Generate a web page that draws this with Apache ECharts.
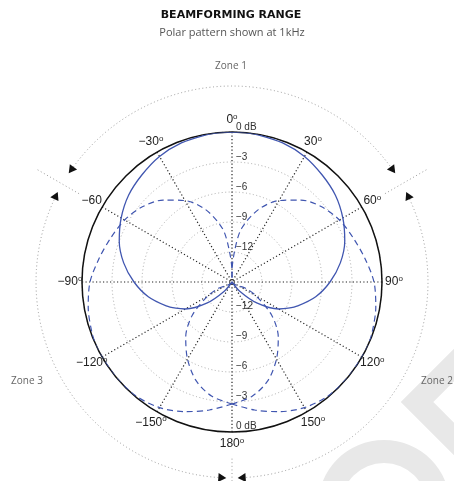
<!DOCTYPE html>
<html>
<head>
<meta charset="utf-8">
<script src="https://cdn.jsdelivr.net/npm/echarts@6/dist/echarts.min.js"></script>
<style>
  html, body { margin: 0; padding: 0; background: #fff; }
  #chart { width: 454px; height: 481px; }
</style>
</head>
<body>
<div id="chart"></div>
<script>
// angle (deg, 0 = front, clockwise) -> level in dB
const angles = [-180, -170, -160, -150, -140, -130, -120, -115, -110, -100, -90, -80, -70, -60, -50, -40, -30, -20, -10, -5,
  0, 5, 10, 20, 30, 40, 50, 60, 70, 80, 90, 100, 110, 115, 120, 130, 140, 150, 160, 170, 180];
const frontBeam = [-15, -15, -15, -15, -13.8, -11.7, -9.6, -8.8, -8.0, -6.5, -5.2, -4.0, -3.0, -2.2, -1.5, -1.0, -0.5, -0.2, -0.05, 0,
  0, 0, -0.05, -0.2, -0.5, -1.0, -1.5, -2.2, -3.0, -4.0, -5.2, -6.5, -8.0, -8.8, -9.6, -11.7, -13.8, -15, -15, -15, -15];
const zone3Beam = [-2.8, -2.0, -1.2, -0.5, -0.1, 0, 0, 0, -0.1, -0.4, -0.8, -1.5, -2.1, -2.6, -3.3, -4.3, -5.6, -7.3, -9.6, -11.8,
  -14, -15, -15, -15, -15, -15, -15, -15, -15, -15, -15, -15, -15, -13.5, -12.2, -9.8, -7.8, -6.1, -4.5, -3.4, -2.8];
const zone2Beam = [-2.8, -3.4, -4.5, -6.1, -7.8, -9.8, -12.2, -13.5, -15, -15, -15, -15, -15, -15, -15, -15, -15, -15, -15, -15,
  -14, -11.8, -9.6, -7.3, -5.6, -4.3, -3.3, -2.6, -2.1, -1.5, -0.8, -0.4, -0.1, 0, 0, 0, -0.1, -0.5, -1.2, -2.0, -2.8];

const angleTicks = [-150, -120, -90, -60, -30, 0, 30, 60, 90, 120, 150, 180];
const angleTickLabels = ['−150°', '−120°', '−90°', '−60', '−30°', '0°', '30°', '60°', '90°', '120°', '150°', '180°'];
const dbTicks = [0, -3, -6, -9, -12];
const dbTickLabels = ['0 dB', '−3', '−6', '−9', '−12'];

const zoneNames = ['Zone 1', 'Zone 2', 'Zone 3'];
const zoneBounds = [-60, 60, 180];
const zoneArcs = [[-54, 54], [65, 176], [-176, -65]];

const FONT = '"Liberation Sans", Arial, sans-serif';
const BLUE = '#4056b0';
const CENTER = [232, 282];
// radii in the outer (decoration) polar, as a share of its radius
const ARC_R = 0.871;
const BOUND_IN = 0.785;
const BOUND_OUT = 1.0;
const LABEL_R = 0.72;

const chart = echarts.init(document.getElementById('chart'), null, { renderer: 'canvas' });

function toPairs(vals) {
  return vals.map((v, i) => [v, angles[i]]);
}

function degLabel(s) {
  if (s.endsWith('°')) return '{n|' + s.slice(0, -1) + '}{s|o}';
  return '{n|' + s + '}';
}

function zoneArcItem(params, api) {
  const a0 = api.value(0), a1 = api.value(1);
  const c = api.coord([0, 0]);
  const pts = [api.coord([ARC_R, a0]), api.coord([ARC_R, a1])];
  const r = Math.hypot(pts[0][0] - c[0], pts[0][1] - c[1]);
  const ang = pts.map(p => Math.atan2(p[1] - c[1], p[0] - c[0]));
  const children = [{
    type: 'arc',
    shape: { cx: c[0], cy: c[1], r: r, startAngle: ang[0], endAngle: ang[1], clockwise: true },
    style: { stroke: '#9a9a9a', lineWidth: 1, lineDash: [1, 2.6], fill: null }
  }];
  pts.forEach((p, k) => {
    const ux = (p[0] - c[0]) / r, uy = (p[1] - c[1]) / r;
    const dir = k === 0 ? -1 : 1;
    const tx = -uy * dir, ty = ux * dir;
    children.push({
      type: 'polygon',
      shape: { points: [
        [p[0] + tx * 8, p[1] + ty * 8],
        [p[0] + ux * 4.5, p[1] + uy * 4.5],
        [p[0] - ux * 4.5, p[1] - uy * 4.5]
      ] },
      style: { fill: '#111' }
    });
  });
  return { type: 'group', children: children };
}

chart.setOption({
  backgroundColor: '#fff',
  animation: false,
  graphic: [
    // faint watermark in the lower right corner
    { type: 'ring', z: -10, shape: { cx: 384, cy: 506, r: 66, r0: 43 }, style: { fill: '#e8e8e8' } },
    { type: 'polyline', z: -10, shape: { points: [[470, 349], [417, 402], [470, 455]] },
      style: { stroke: '#e8e8e8', lineWidth: 23, lineJoin: 'miter', fill: null } },
    { type: 'text', x: 231, y: 15, style: { text: 'BEAMFORMING RANGE', align: 'center', verticalAlign: 'middle',
      font: 'bold 11px "DejaVu Sans", sans-serif', fill: '#111' } },
    { type: 'text', x: 232, y: 33, style: { text: 'Polar pattern shown at 1kHz', align: 'center', verticalAlign: 'middle',
      font: '11px "Open Sans", sans-serif', fill: '#555' } },
    { type: 'text', x: 231, y: 66, style: { text: zoneNames[0], align: 'center', verticalAlign: 'middle',
      font: '10px "Open Sans", sans-serif', fill: '#666' } },
    { type: 'text', x: 437, y: 381, style: { text: zoneNames[1], align: 'center', verticalAlign: 'middle',
      font: '10px "Open Sans", sans-serif', fill: '#666' } },
    { type: 'text', x: 27, y: 381, style: { text: zoneNames[2], align: 'center', verticalAlign: 'middle',
      font: '10px "Open Sans", sans-serif', fill: '#666' } }
  ],
  polar: [
    { center: CENTER, radius: 150 },
    { center: CENTER, radius: 225 }
  ],
  angleAxis: [
    {
      polarIndex: 0, type: 'value', min: -180, max: 180, interval: 30,
      startAngle: 270, clockwise: true,
      axisLine: { show: true, lineStyle: { color: '#111', width: 1.5 } },
      axisTick: { show: false },
      axisLabel: { show: false },
      splitLine: { show: true, lineStyle: { color: '#222', width: 1.2, type: [1.2, 2.3] } }
    },
    {
      polarIndex: 1, type: 'value', min: -180, max: 180, startAngle: 270, clockwise: true, show: false
    }
  ],
  radiusAxis: [
    {
      polarIndex: 0, type: 'value', min: -15, max: 0, interval: 3,
      axisLine: { show: false }, axisTick: { show: false }, axisLabel: { show: false },
      splitLine: { show: true, lineStyle: { color: '#aaa', width: 1, type: [1, 2.5] } }
    },
    { polarIndex: 1, type: 'value', min: 0, max: 1, show: false }
  ],
  series: [
    {
      name: 'Zone 3 beam', type: 'line', coordinateSystem: 'polar', polarIndex: 0,
      data: toPairs(zone3Beam), showSymbol: false, clip: false, smooth: 0.3,
      lineStyle: { color: BLUE, width: 1.2, type: [6, 4] }
    },
    {
      name: 'Zone 2 beam', type: 'line', coordinateSystem: 'polar', polarIndex: 0,
      data: toPairs(zone2Beam), showSymbol: false, clip: false, smooth: 0.3,
      lineStyle: { color: BLUE, width: 1.2, type: [6, 4] }
    },
    {
      name: 'Zone 1 beam', type: 'line', coordinateSystem: 'polar', polarIndex: 0,
      data: toPairs(frontBeam), showSymbol: false, clip: false, smooth: 0.3,
      lineStyle: { color: BLUE, width: 1.3 }
    },
    {
      // dB labels along the 0°/180° line
      type: 'custom', coordinateSystem: 'polar', polarIndex: 0, silent: true,
      data: dbTicks.map(v => [v, 0]).concat(dbTicks.map(v => [v, 180])),
      renderItem: function (params, api) {
        const p = api.coord([api.value(0), api.value(1)]);
        const top = api.value(1) === 0;
        return {
          type: 'text', x: p[0] + 4, y: p[1] - (top ? 5 : 6), z2: 10,
          style: { text: dbTickLabels[params.dataIndex % dbTicks.length], align: 'left', verticalAlign: 'middle',
            font: '10px ' + FONT, fill: '#333' }
        };
      }
    },
    {
      // angle labels
      type: 'custom', coordinateSystem: 'polar', polarIndex: 1, silent: true,
      data: angleTicks.map(a => [LABEL_R, a]),
      renderItem: function (params, api) {
        const p = api.coord([api.value(0), api.value(1)]);
        return {
          type: 'text', x: p[0], y: p[1],
          style: {
            text: degLabel(angleTickLabels[params.dataIndex]), align: 'center', verticalAlign: 'middle',
            rich: {
              n: { fontSize: 12, fontFamily: FONT, fill: '#222', lineHeight: 14 },
              s: { fontSize: 8, fontFamily: FONT, fill: '#222', lineHeight: 14, verticalAlign: 'top' }
            }
          }
        };
      }
    },
    {
      // zone boundaries
      type: 'custom', coordinateSystem: 'polar', polarIndex: 1, silent: true,
      data: zoneBounds.map(a => [BOUND_OUT, a]),
      renderItem: function (params, api) {
        const p1 = api.coord([BOUND_IN, api.value(1)]);
        const p2 = api.coord([api.value(0), api.value(1)]);
        return {
          type: 'line', shape: { x1: p1[0], y1: p1[1], x2: p2[0], y2: p2[1] },
          style: { stroke: '#9a9a9a', lineWidth: 1, lineDash: [1, 2.6] }
        };
      }
    },
    {
      // zone arcs with arrow heads
      type: 'custom', coordinateSystem: 'polar', polarIndex: 1, silent: true,
      data: zoneArcs,
      renderItem: zoneArcItem
    }
  ]
});
</script>
</body>
</html>
